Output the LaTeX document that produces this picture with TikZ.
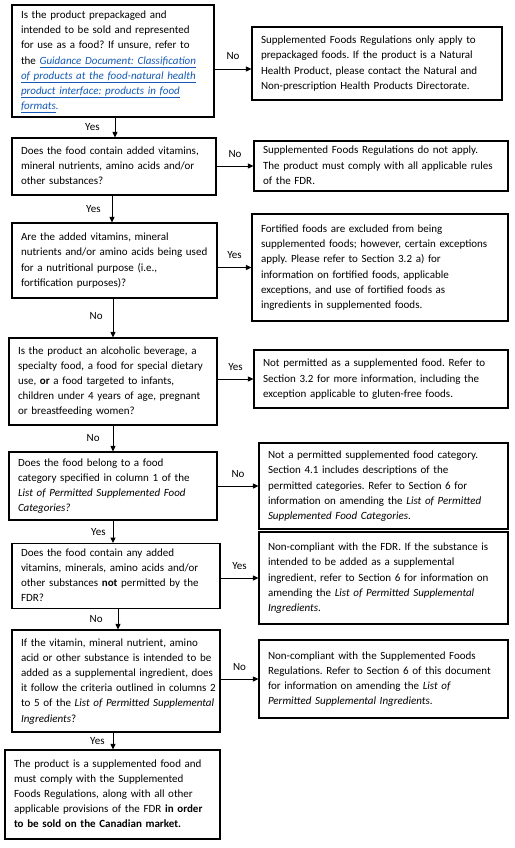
\documentclass[tikz,border=0pt]{standalone}
\usepackage{fontspec}
\setmainfont{Carlito}
\usetikzlibrary{arrows.meta}
\definecolor{linkblue}{RGB}{20,90,180}
\newcommand{\boxfont}{\fontsize{11}{15.2}\selectfont}
\newcommand{\boxlines}[1]{\begin{tabular}{@{}l@{}}#1\end{tabular}}
\newcommand{\lnk}[1]{{\color{linkblue}\itshape\underline{#1}}}
\frenchspacing
\begin{document}
\begin{tikzpicture}[x=1pt,y=-1pt,
  box/.style={draw, line width=1.1pt, inner xsep=9pt, inner ysep=2pt, align=left, font=\boxfont},
  arr/.style={-{Triangle[length=5.5pt,width=5pt]}, line width=0.9pt},
  lbl/.style={font=\boxfont, inner sep=1pt}]
\fill[white] (0,0) rectangle (514,848);
\useasboundingbox (0,0) rectangle (514,848);
% questions
\node[box, text width=184pt, minimum height=112pt] (q1) at (113,61) {\boxlines{Is the product prepackaged and\\ intended to be sold and represented\\ for use as a food? If unsure, refer to\\ the \lnk{Guidance Document: Classification}\\ \lnk{of products at the food-natural health}\\ \lnk{product interface: products in food}\\ \lnk{formats}{\color{linkblue}\itshape .}}};
\node[box, text width=186pt, minimum height=57pt] (q2) at (114,166.5) {\boxlines{Does the food contain added vitamins,\\ mineral nutrients, amino acids and/or\\ other substances?}};
\node[box, text width=187pt, minimum height=75pt] (q3) at (114.5,260.5) {\boxlines{Are the added vitamins, mineral\\ nutrients and/or amino acids being used\\ for a nutritional purpose (i.e.,\\ fortification purposes)?}};
\node[box, text width=190pt, minimum height=87pt] (q4) at (113,381.5) {\boxlines{Is the product an alcoholic beverage, a\\ specialty food, a food for special dietary\\ use, \textbf{or} a food targeted to infants,\\ children under 4 years of age, pregnant\\ or breastfeeding women?}};
\node[box, text width=190pt, minimum height=68pt] (q5) at (113,486) {\boxlines{Does the food belong to a food\\ category specified in column 1 of the\\ \textit{List of Permitted Supplemented Food}\\ \textit{Categories?}}};
\node[box, text width=190pt, minimum height=62pt] (q6) at (116,576) {\boxlines{Does the food contain any added\\ vitamins, minerals, amino acids and/or\\ other substances \textbf{not} permitted by the\\ FDR?}};
\node[box, text width=190pt, minimum height=102pt] (q7) at (116,681) {\boxlines{If the vitamin, mineral nutrient, amino\\ acid or other substance is intended to be\\ added as a supplemental ingredient, does\\ it follow the criteria outlined in columns 2\\ to 5 of the \textit{List of Permitted Supplemental}\\ \textit{Ingredients}?}};
\node[box, text width=197pt, minimum height=89pt] (q8) at (112.5,794.5) {\boxlines{The product is a supplemented food and\\ must comply with the Supplemented\\ Foods Regulations, along with all other\\ applicable provisions of the FDR \textbf{in order}\\ \textbf{to be sold on the Canadian market.}}};
% results
\node[box, text width=232pt, minimum height=73pt] (r1) at (377,63.5) {\boxlines{Supplemented Foods Regulations only apply to\\ prepackaged foods. If the product is a Natural\\ Health Product, please contact the Natural and\\ Non-prescription Health Products Directorate.}};
\node[box, text width=236pt, minimum height=50pt] (r2) at (381,166) {\boxlines{Supplemented Foods Regulations do not apply.\\ The product must comply with all applicable rules\\ of the FDR.}};
\node[box, text width=238pt, minimum height=107pt] (r3) at (380,267.5) {\boxlines{Fortified foods are excluded from being\\ supplemented foods; however, certain exceptions\\ apply. Please refer to Section 3.2 a) for\\ information on fortified foods, applicable\\ exceptions, and use of fortified foods as\\ ingredients in supplemented foods.}};
\node[box, text width=236pt, minimum height=58pt] (r4) at (381,379) {\boxlines{Not permitted as a supplemented food. Refer to\\ Section 3.2 for more information, including the\\ exception applicable to gluten-free foods.}};
\node[box, text width=231pt, minimum height=86pt] (r5) at (383.5,486) {\boxlines{Not a permitted supplemented food category.\\ Section 4.1 includes descriptions of the\\ permitted categories. Refer to Section 6 for\\ information on amending the \textit{List of Permitted}\\ \textit{Supplemented Food Categories}.}};
\node[box, text width=231pt, minimum height=92pt] (r6) at (383.5,578) {\boxlines{Non-compliant with the FDR. If the substance is\\ intended to be added as a supplemental\\ ingredient, refer to Section 6 for information on\\ amending the \textit{List of Permitted Supplemental}\\ \textit{Ingredients}.}};
\node[box, text width=231pt, minimum height=78pt] (r7) at (383.5,679) {\boxlines{Non-compliant with the Supplemented Foods\\ Regulations. Refer to Section 6 of this document\\ for information on amending the \textit{List of}\\ \textit{Permitted Supplemental Ingredients}.}};
% horizontal connectors
\draw[arr] ([yshift=-5.5pt]q1.east |- r1.west) -- node[lbl, above=8pt] {No} ([yshift=-5.5pt]r1.west);
\draw[arr] (q2.east |- r2.west) -- node[lbl, above=7pt] {No} (r2.west);
\draw[arr] (q3.east |- r3.west) -- node[lbl, above=7pt] {Yes} (r3.west);
\draw[arr] (q4.east |- r4.west) -- node[lbl, above=7pt] {Yes} (r4.west);
\draw[arr] (q5.east |- r5.west) -- node[lbl, above=7pt] {No} (r5.west);
\draw[arr] (q6.east |- r6.west) -- node[lbl, above=7pt] {Yes} (r6.west);
\draw[arr] (q7.east |- r7.west) -- node[lbl, above=7pt] {No} (r7.west);
% vertical connectors
\draw[arr] ([xshift=2pt]q1.south) -- node[lbl, left=14pt] {Yes} ([xshift=2pt]q1.south |- q2.north);
\draw[arr] ([xshift=-2pt]q2.south) -- node[lbl, left=10pt] {Yes} ([xshift=-2pt]q2.south |- q3.north);
\draw[arr] ([xshift=-1.5pt]q3.south) -- node[lbl, left=9pt, pos=0.45] {No} ([xshift=-1.5pt]q3.south |- q4.north);
\draw[arr] (q4.south) -- node[lbl, left=12pt] {No} (q4.south |- q5.north);
\draw[arr] (q5.south) -- node[lbl, left=6pt] {Yes} (q5.south |- q6.north);
\draw[arr] ([xshift=2pt]q6.south) -- node[lbl, left=14pt] {No} ([xshift=2pt]q6.south |- q7.north);
\draw[arr] ([xshift=-3pt]q7.south) -- node[lbl, left=7pt] {Yes} ([xshift=-3pt]q7.south |- q8.north);
\end{tikzpicture}
\end{document}
